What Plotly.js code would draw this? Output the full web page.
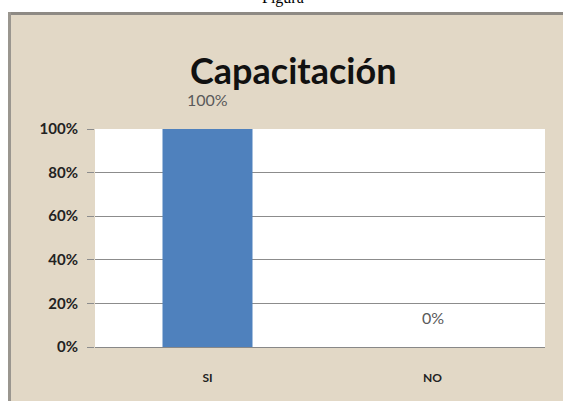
<!DOCTYPE html>
<html>
<head>
<meta charset="utf-8">
<script src="https://cdn.plot.ly/plotly-3.0.1.min.js"></script>
<style>
html,body{margin:0;padding:0;background:#e2d8c6;overflow:hidden;}
#chart{width:563px;height:401px;}
</style>
</head>
<body>
<div id="chart"></div>
<script>
const categories = ["SI", "NO"];
const values = [1.00, 0.00];
const valueLabels = ["100%", "0%"];
const yTickVals = [0, 0.2, 0.4, 0.6, 0.8, 1.0];
const yTickText = ["0%", "20%", "40%", "60%", "80%", "100%"];
const chartTitle = "Capacitación";
const captionText = "Figura";

const W = 563, H = 401;
const m = {l: 95, r: 18, t: 129, b: 54};
const pw = W - m.l - m.r, ph = H - m.t - m.b;
const px = x => (x - m.l) / pw;
const py = y => (H - m.b - y) / ph;

const data = [{
  type: "bar",
  x: categories,
  y: values,
  marker: {color: "#4F81BD", line: {width: 0}},
  width: 0.4,
  hoverinfo: "none"
}];

const annotations = categories.map((c, i) => ({
  x: c, y: values[i], xref: "x", yref: "y",
  text: valueLabels[i], showarrow: false,
  yanchor: "bottom", yshift: 18,
  font: {family: "Lato, 'Open Sans', sans-serif", size: 16, color: "#5a5a5a"}
}));
annotations.push({
  x: px(293), y: py(70), xref: "paper", yref: "paper",
  text: "<b>" + chartTitle + "</b>", showarrow: false,
  xanchor: "center", yanchor: "middle",
  font: {family: "Lato, 'Open Sans', sans-serif", size: 36, color: "#111111"}
});
annotations.push({
  x: px(283), y: py(9), xref: "paper", yref: "paper",
  text: captionText, showarrow: false,
  xanchor: "center", yanchor: "bottom",
  font: {family: "'Liberation Serif', serif", size: 16, color: "#000"}
});

const layout = {
  width: W, height: H,
  margin: m,
  paper_bgcolor: "#e2d8c6",
  plot_bgcolor: "#ffffff",
  showlegend: false,
  xaxis: {
    type: "category",
    showgrid: false,
    showline: true, linecolor: "#888888", linewidth: 1,
    ticks: "",
    ticklabelstandoff: 20,
    tickfont: {family: "Lato, 'Open Sans', sans-serif", size: 12, color: "#222", weight: "bold"},
    fixedrange: true
  },
  yaxis: {
    range: [0, 1],
    tickvals: yTickVals, ticktext: yTickText,
    showgrid: true, gridcolor: "#8c8c8c", gridwidth: 1,
    zeroline: false,
    showline: false,
    ticks: "outside", ticklen: 7, tickcolor: "#8c8c8c",
    ticklabelstandoff: 6,
    tickfont: {family: "Lato, 'Open Sans', sans-serif", size: 15, color: "#222", weight: "bold"},
    fixedrange: true
  },
  shapes: [
    {type: "rect", xref: "paper", yref: "paper", layer: "below",
     x0: px(-20), x1: px(620), y0: py(12), y1: py(-20),
     fillcolor: "#ffffff", line: {width: 0}},
    {type: "rect", xref: "paper", yref: "paper", layer: "below",
     x0: px(-20), x1: px(8), y0: py(440), y1: py(-20),
     fillcolor: "#ffffff", line: {width: 0}},
    {type: "line", xref: "paper", yref: "paper", layer: "below",
     x0: px(8), x1: px(620), y0: py(13.5), y1: py(13.5),
     line: {color: "#8e8a84", width: 3}},
    {type: "line", xref: "paper", yref: "paper", layer: "below",
     x0: px(9.5), x1: px(9.5), y0: py(12), y1: py(440),
     line: {color: "#9a968f", width: 3}}
  ],
  annotations: annotations
};

Plotly.newPlot("chart", data, layout, {staticPlot: true, displayModeBar: false});
</script>
</body>
</html>
